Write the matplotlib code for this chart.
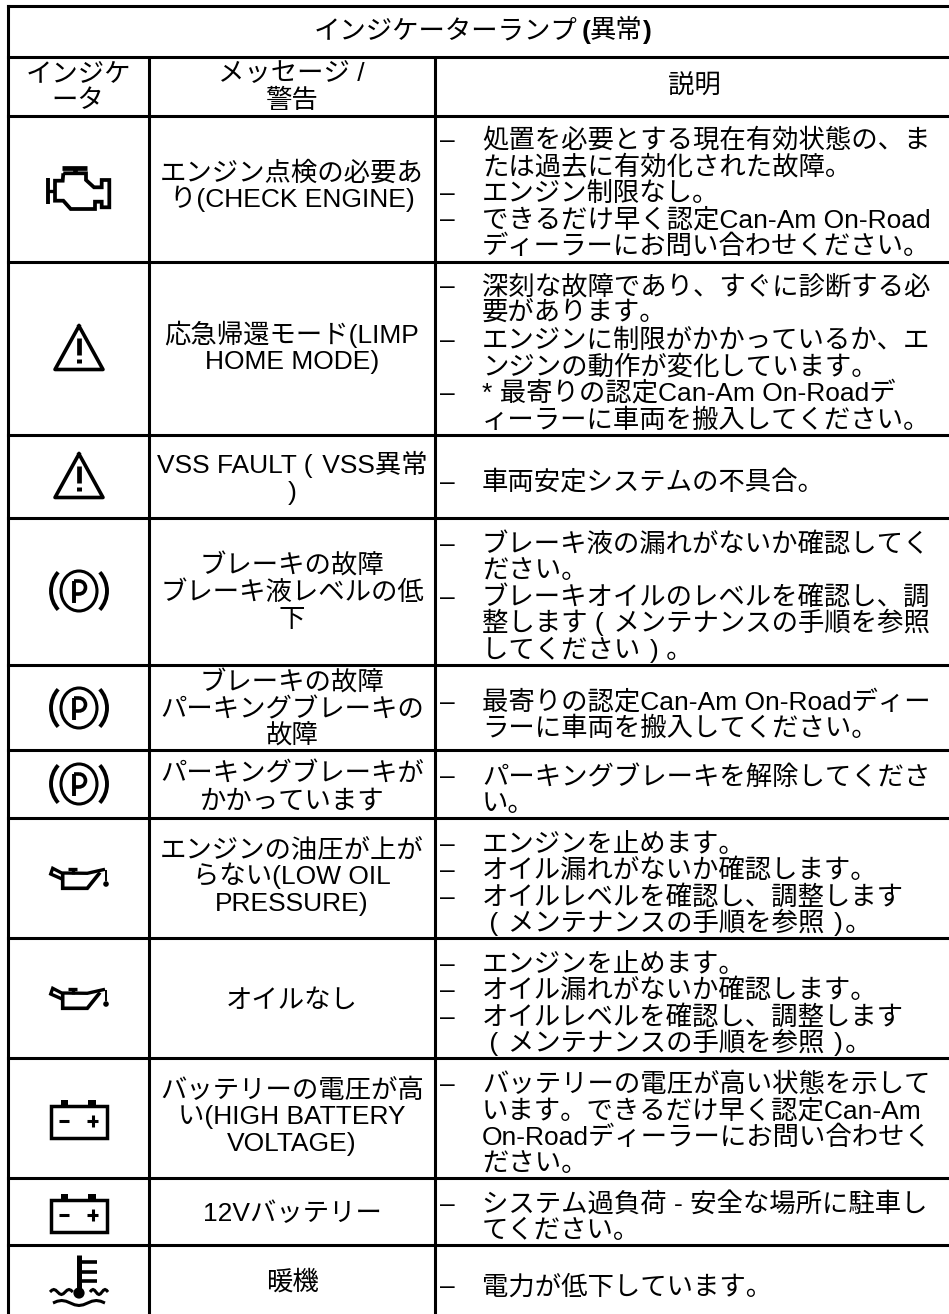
"""Indicator lamp table (Japanese), drawn on a pixel-sized axes."""
import numpy as np
import matplotlib
matplotlib.use("Agg")
import matplotlib.pyplot as plt
from matplotlib.patches import Circle, Arc, Rectangle, Ellipse

plt.rcParams["font.family"] = ["Liberation Sans", "Noto Sans CJK JP"]

W, H = 949, 1314
FS = 19
TH = "\u200a"  # hair space, the source has wide gaps round its brackets

# table contents
title_main = "インジケーターランプ"
title_word = "異常"
head_icon = ["インジケ", "ータ"]
head_msg = ["メッセージ /", "警告"]
head_desc = "説明"

icons = ["engine", "warning", "warning", "brake", "brake", "brake",
         "oil", "oil", "battery", "battery", "coolant"]

messages = [
    ["エンジン点検の必要あ", "り(CHECK ENGINE)"],
    ["応急帰還モード(LIMP", "HOME MODE)"],
    ["VSS FAULT (" + TH + " VSS異常", ")"],
    ["ブレーキの故障", "ブレーキ液レベルの低", "下"],
    ["ブレーキの故障", "パーキングブレーキの", "故障"],
    ["パーキングブレーキが", "かかっています"],
    ["エンジンの油圧が上が", "らない(LOW OIL", "PRESSURE)"],
    ["オイルなし"],
    ["バッテリーの電圧が高", "い(HIGH BATTERY", "VOLTAGE)"],
    ["12Vバッテリー"],
    ["暖機"],
]

maint = " (" + TH + " メンテナンスの手順を参照" + TH + " )" + TH + "。"

# one list per row, one inner list per dash item
descriptions = [
    [["処置を必要とする現在有効状態の、ま", "たは過去に有効化された故障。"],
     ["エンジン制限なし。"],
     ["できるだけ早く認定Can-Am On-Road", "ディーラーにお問い合わせください。"]],
    [["深刻な故障であり、すぐに診断する必", "要があります。"],
     ["エンジンに制限がかかっているか、エ", "ンジンの動作が変化しています。"],
     ["* 最寄りの認定Can-Am On-Roadデ", "ィーラーに車両を搬入してください。"]],
    [["車両安定システムの不具合。"]],
    [["ブレーキ液の漏れがないか確認してく", "ださい。"],
     ["ブレーキオイルのレベルを確認し、調", "整します (" + TH + " メンテナンスの手順を参照",
      "してください" + TH + " ) 。"]],
    [["最寄りの認定Can-Am On-Roadディー", "ラーに車両を搬入してください。"]],
    [["パーキングブレーキを解除してくださ", "い。"]],
    [["エンジンを止めます。"], ["オイル漏れがないか確認します。"],
     ["オイルレベルを確認し、調整します", maint]],
    [["エンジンを止めます。"], ["オイル漏れがないか確認します。"],
     ["オイルレベルを確認し、調整します", maint]],
    [["バッテリーの電圧が高い状態を示して", "います。できるだけ早く認定Can-Am",
      "On-Roadディーラーにお問い合わせく", "ださい。"]],
    [["システム過負荷 - 安全な場所に駐車し", "てください。"]],
    [["電力が低下しています。"]],
]

# layout, in pixels
row_lines = [6, 57, 116, 262, 435, 518, 665, 750, 818, 938, 1058, 1178, 1245]
col_x = [8, 149, 435]
msg_first = [171, 333, 464, 564, 681, 772, 848, 998, 1088, 1212, 1280]
desc_first = [138, 285, 480, 542, 700, 775, 842, 962, 1082, 1202, 1285]
icon_y = [187, 348, 476, 591, 708, 784, 878, 998, 1119, 1213, 1281]
LINE_H = 26.6
BASE = 9.5  # glyph centre to baseline

fig = plt.figure(figsize=(W / 100, H / 100), dpi=100)
ax = fig.add_axes([0, 0, 1, 1])
ax.set_xlim(0, W)
ax.set_ylim(H, 0)
ax.axis("off")


def txt(x, y, s, ha="center", **kw):
    ax.text(x, y + BASE, s, ha=ha, va="baseline", fontsize=FS, color="black", **kw)


def stroke(xs, ys, lw=2.0, cap="butt"):
    ax.plot(xs, ys, color="black", lw=lw, solid_capstyle=cap, solid_joinstyle="miter")


def draw_engine(cx, cy):
    xs = np.array([-15.7, -16.3, -24, -24, -15.7, -8.3, 16, 16, 22.7, 22.7, 30.3, 30.3,
                   22.7, 22.7, 15, 7, 7, -15.7])
    ys = np.array([-13.7, -6.3, -6.3, 13.7, 13.7, 22, 22, 14.7, 14.7, 20.3, 20.3, -7,
                   -7, 0.3, 0.3, -7, -13.7, -13.7])
    stroke(cx + xs, cy + ys, lw=2.7)
    stroke([cx - 30.7, cx - 30.7], [cy - 8.7, cy + 17], lw=2.8)
    stroke([cx - 30.7, cx - 24], [cy + 4, cy + 4], lw=2.4)
    stroke([cx - 16.7, cx + 7.7], [cy - 19, cy - 19], lw=3.4)
    stroke([cx - 4, cx - 4], [cy - 19, cy - 13], lw=3.4)


def draw_warning(cx, cy):
    xs = np.array([0, 24, -24, 0])
    ys = np.array([-22, 21.5, 21.5, -22])
    ax.plot(cx + xs, cy + ys, color="black", lw=2.6, solid_joinstyle="round")
    stroke([cx, cx], [cy - 10, cy + 7], lw=3.4)
    stroke([cx, cx], [cy + 11, cy + 15], lw=3.6)


def draw_brake(cx, cy):
    ax.add_patch(Ellipse((cx, cy), 36, 40, fill=False, ec="black", lw=2.2))
    ax.add_patch(Arc((cx, cy), 56, 56, theta1=-42, theta2=42, ec="black", lw=2.8))
    ax.add_patch(Arc((cx, cy), 56, 56, theta1=138, theta2=222, ec="black", lw=2.8))
    stroke([cx - 5, cx - 5], [cy - 10, cy + 12], lw=2.8)
    ax.add_patch(Arc((cx, cy - 3.5), 13, 13, theta1=-90, theta2=90, ec="black", lw=2.6))
    stroke([cx - 5, cx], [cy - 10, cy - 10], lw=2.6)
    stroke([cx - 5, cx], [cy + 3, cy + 3], lw=2.6)


def draw_oil(cx, cy):
    stroke(cx + np.array([-16.3, -28.3, -26.3, -17.3, 8.3, 26]),
           cy + np.array([1.3, -4, -9.7, -5, -4.7, -8.7]), lw=2.4)
    stroke(cx + np.array([-16.3, -16.3, 8.3, 21]),
           cy + np.array([-5, 10.3, 10.3, -5.5]), lw=2.6)
    stroke([cx - 6.3, cx - 6.3], [cy - 9, cy - 4], lw=2.4)
    stroke([cx - 10.7, cx - 1.7], [cy - 9, cy - 9], lw=2.4)
    stroke([cx + 27, cx + 27], [cy - 8, cy + 3], lw=1.4)
    ax.add_patch(Circle((cx + 27, cy + 6), 2.8, color="black", lw=0))


def draw_battery(cx, cy):
    ax.add_patch(Rectangle((cx - 27.5, cy - 13.5), 56, 32, fill=False, ec="black", lw=2.5))
    ax.add_patch(Rectangle((cx - 17.5, cy - 19), 7, 6, color="black", lw=0))
    ax.add_patch(Rectangle((cx + 9, cy - 19), 8, 6, color="black", lw=0))
    stroke([cx - 20, cx - 10], [cy + 2, cy + 2], lw=2.2)
    stroke([cx + 8, cx + 19], [cy + 2, cy + 2], lw=2.2)
    stroke([cx + 14, cx + 14], [cy - 4, cy + 8], lw=2.2)


def draw_coolant(cx, cy):
    stroke([cx, cx], [cy - 26, cy + 12], lw=3.6)
    ax.add_patch(Circle((cx, cy + 12), 5.6, color="black", lw=0))
    for dy in [-19, -9.5, 0]:
        stroke([cx, cx + 18], [cy + dy, cy + dy], lw=2.6)
    t = np.arange(13)
    w = np.array([0, -1.8, -2.5, -1.8, 0, 1.8, 2.5, 1.8, 0, -1.8, -2.5, -1.8, 0])
    stroke(cx - 29 + t * 1.9, cy + 11 + w, lw=2.2)
    stroke(cx + 11 + t * 1.5, cy + 11 + w, lw=2.2)
    stroke(cx - 26 + t * 4.33, cy + 22 + w, lw=2.2)


ICON_FUNCS = {"engine": draw_engine, "warning": draw_warning, "brake": draw_brake,
              "oil": draw_oil, "battery": draw_battery, "coolant": draw_coolant}

# grid
for y in row_lines:
    ax.plot([col_x[0], W], [y, y], color="black", lw=2.2, solid_capstyle="projecting")
ax.plot([col_x[0]] * 2, [6, H], color="black", lw=2.2, solid_capstyle="projecting")
for x in col_x[1:]:
    ax.plot([x, x], [57, H], color="black", lw=2.2, solid_capstyle="butt")

# headers
txt(577, 29, title_main, ha="right")
txt(582, 29, "(", ha="left", fontweight="bold")
txt(590, 29, title_word, ha="left")
txt(643, 29, ")", ha="left", fontweight="bold")
for i, s in enumerate(head_icon):
    txt(78, 72 + i * LINE_H, s)
for i, s in enumerate(head_msg):
    txt(291, 72 + i * LINE_H, s)
txt(694, 84, head_desc)

# rows
for r in range(len(icons)):
    ICON_FUNCS[icons[r]](79, icon_y[r])
    for i, s in enumerate(messages[r]):
        txt(292, msg_first[r] + i * LINE_H, s)
    y = desc_first[r]
    for item in descriptions[r]:
        txt(440, y, "–", ha="left")
        for s in item:
            txt(482, y, s, ha="left")
            y += LINE_H

fig.savefig("out.png", dpi=100)
